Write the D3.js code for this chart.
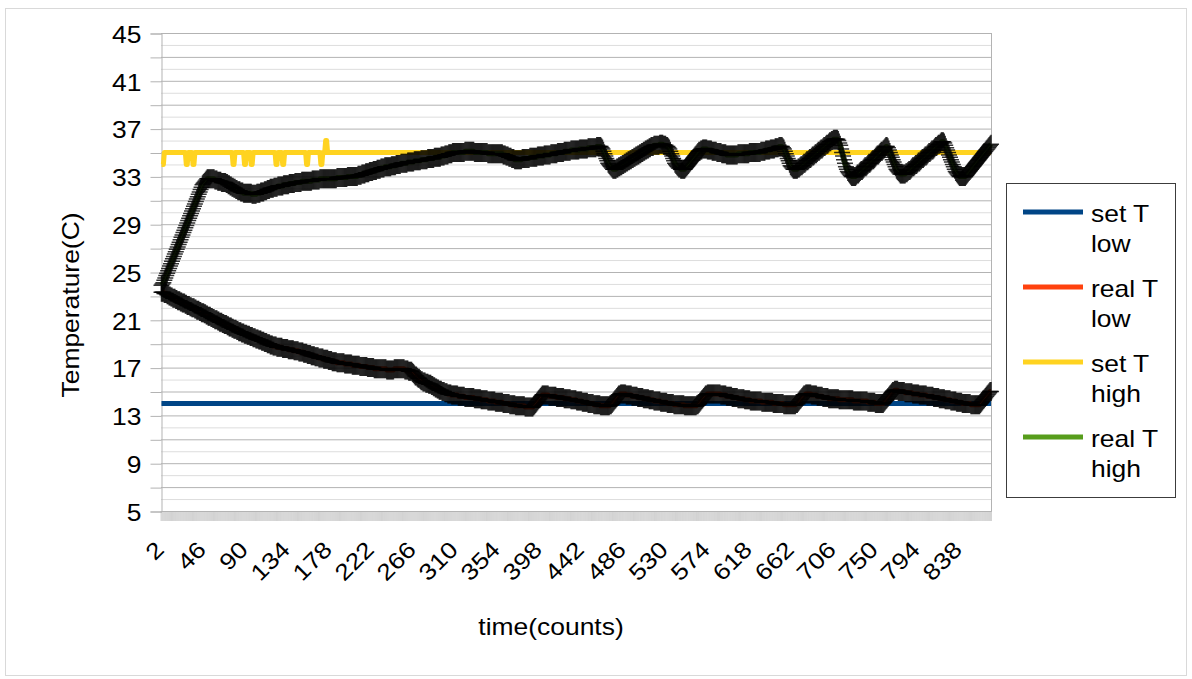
<!DOCTYPE html>
<html>
<head>
<meta charset="utf-8">
<script src="https://cdn.jsdelivr.net/npm/d3@7"></script>
<style>
  html, body { margin: 0; padding: 0; background: #fff; }
  svg { display: block; }
  text { font-family: "Liberation Sans", Arial, sans-serif; fill: #000; }
</style>
</head>
<body>
<svg id="chart" width="1192" height="679"></svg>
<script>
// ---- data -------------------------------------------------------------
// Each series is written as a list of readings; an entry [v, n] means the
// reading v repeated for n consecutive counts.
const counts = d3.range(2, 872);               // sample counts 2 … 871
const xTickLabels = ["2","46","90","134","178","222","266","310","354","398",
                     "442","486","530","574","618","662","706","750","794","838"];
const yTickLabels = [45, 41, 37, 33, 29, 25, 21, 17, 13, 9, 5];
const seriesNames = ["set T low", "real T low", "set T high", "real T high"];

const setTLowRuns = [[14, 870]];

const realTLowRuns = [
  [23.3,3],[23.2,3],[23.1,2],[23.0,2],
  [22.9,2],[22.8,3],[22.7,2],[22.6,3],[22.5,2],[22.4,3],[22.3,2],[22.2,3],[22.1,2],[22.0,3],
  [21.9,2],[21.8,3],[21.7,2],[21.6,3],[21.5,2],[21.4,2],
  [21.3,3],[21.2,2],[21.1,2],[21.0,3],[20.9,2],[20.8,3],[20.7,2],[20.6,3],[20.5,2],[20.4,3],
  [20.3,2],[20.2,3],[20.1,2],[20.0,2],
  [20.0,1],[19.9,3],[19.8,3],[19.7,3],[19.6,3],[19.5,3],[19.4,3],[19.3,3],[19.2,3],[19.1,3],
  [19.0,3],[18.9,3],[18.8,1],
  [18.8,3],[18.7,6],[18.6,6],[18.5,6],[18.4,5],[18.3,5],[18.2,4],
  [18.1,4],[18.0,4],[17.9,4],[17.8,5],[17.7,5],[17.6,4],[17.5,5],[17.4,4],
  [17.4,4],[17.3,8],[17.2,8],[17.1,8],[17.0,7],[16.9,7],
  [16.9,6],[16.8,8],[16.9,11],[16.8,4],[16.7,4],
  16.6,16.5,16.4,[16.3,2],16.2,[16.1,2],16.0,
  [15.9,2],[15.8,3],[15.7,3],[15.6,3],[15.5,2],[15.4,2],
  [15.3,2],[15.2,2],[15.1,3],[15.0,3],[14.9,3],[14.8,4],[14.7,2],
  [14.7,5],[14.6,7],[14.5,6],
  [14.5,4],[14.4,7],[14.3,7],
  [14.2,8],[14.1,8],[14.0,7],[13.9,6],[13.8,6],
  [13.8,4],[13.7,9],
  13.8,13.9,14.0,14.1,14.2,14.3,14.4,14.5,14.6,[14.7,2],
  [14.7,5],[14.6,8],[14.5,8],[14.4,7],
  [14.3,6],[14.2,6],[14.1,6],[14.0,6],
  [13.9,7],[13.8,8],
  [13.8,2],[13.9,2],14.0,14.1,14.2,14.3,14.4,14.5,14.6,[14.7,2],14.8,
  [14.8,5],
  [14.7,6],[14.6,6],[14.5,6],[14.4,6],[14.3,5],
  [14.2,7],[14.1,7],[14.0,7],[13.9,7],
  [13.9,4],[13.8,12],
  13.8,[13.9,2],14.0,14.1,14.2,14.3,14.4,14.5,14.6,[14.7,2],[14.8,2],
  [14.8,12],
  [14.7,6],[14.6,6],[14.5,6],[14.4,7],[14.3,6],
  [14.2,12],[14.1,12],[14.0,11],
  [13.9,13],
  [14.0,2],14.1,14.2,14.3,14.4,14.5,14.6,[14.7,2],[14.8,3],
  [14.8,3],[14.7,6],[14.6,6],[14.5,6],[14.4,5],
  [14.4,6],[14.3,15],[14.2,15],
  [14.1,8],[14.0,8],
  14.0,14.1,14.2,14.3,14.4,14.5,14.6,14.7,14.8,14.9,[15.0,2],[15.1,4],
  [15.0,7],[14.9,8],[14.8,7],[14.7,8],[14.6,7],
  [14.5,6],[14.4,6],[14.3,6],[14.2,6],[14.1,6],[14.0,6],
  [14.0,3],[13.9,10],
  14.0,14.1,14.2,14.3,14.4,14.5,14.6,14.7,14.8,14.9,15.0,15.0
];

const setTHighRuns = [
  [34,3],[35,23],[34,2],[35,5],[34,2],[35,40],[34,2],[35,10],[34,2],[35,5],[34,2],
  [35,24],[34,2],[35,5],[34,2],[35,23],[34,2],[35,13],[34,2],[35,3],[36,2],[35,696]
];

const realTHighRuns = [
  23.9,24.0,24.1,24.3,24.5,24.7,
  24.9,25.1,25.3,25.5,25.7,25.9,26.1,26.3,26.5,26.7,26.9,27.1,27.3,27.5,27.7,27.9,28.1,
  28.3,28.5,28.7,28.9,29.1,29.3,29.5,29.7,29.9,30.1,30.3,30.5,30.7,30.9,31.1,31.3,31.5,
  31.7,31.9,32.1,32.3,32.4,
  32.5,32.6,32.7,[32.8,8],[32.7,3],[32.6,4],[32.5,5],[32.4,2],
  [32.3,2],[32.2,2],[32.1,2],[32.0,2],[31.9,2],[31.8,3],[31.7,3],[31.6,8],
  [31.6,1],[31.5,5],[31.6,4],[31.7,3],
  [31.7,1],[31.8,3],[31.9,3],[32.0,4],[32.1,4],[32.2,6],
  [32.3,6],[32.4,6],[32.5,7],[32.6,6],
  [32.6,5],[32.7,8],[32.8,8],
  [32.8,10],[32.9,11],[33.0,11],
  [33.1,4],[33.2,4],[33.3,4],[33.4,4],[33.5,4],[33.6,4],[33.7,4],[33.8,3],
  [33.8,4],[33.9,5],[34.0,5],
  [34.1,7],[34.2,7],[34.3,7],
  [34.4,7],[34.5,7],[34.6,7],
  [34.7,4],[34.8,4],[34.9,4],[35.0,3],
  [35.0,10],[35.1,10],[35.0,14],
  [34.9,14],
  [34.9,2],[34.8,3],[34.7,3],[34.6,3],[34.5,3],[34.4,3],
  [34.4,5],[34.5,8],[34.6,8],[34.7,7],[34.8,7],
  [34.9,7],[35.0,7],[35.1,7],
  [35.2,9],[35.3,9],[35.4,8],
  35.4,[35.5,5],35.4,35.3,
  35.1,34.9,34.7,34.5,34.3,34.1,34.0,33.9,33.8,33.7,[33.6,3],
  33.6,[33.7,2],[33.8,2],[33.9,2],[34.0,2],[34.1,2],[34.2,2],[34.3,2],[34.4,2],[34.5,2],
  [34.6,2],[34.7,2],[34.8,2],[34.9,2],[35.0,2],[35.1,2],[35.2,2],[35.3,2],[35.4,2],[35.5,3],[35.6,5],
  35.6,[35.7,4],[35.6,3],[35.5,2],35.4,35.3,
  35.1,34.9,34.7,34.5,34.3,34.1,34.0,33.9,33.8,[33.7,2],[33.6,5],
  33.7,33.8,33.9,34.0,34.1,34.2,34.3,34.4,34.5,34.6,34.7,34.8,34.9,35.0,[35.1,2],[35.2,2],[35.3,5],
  [35.2,5],[35.1,5],[35.0,5],[34.9,5],[34.8,4],
  [34.8,8],[34.9,12],[35.0,12],
  [35.1,5],[35.2,5],[35.3,5],[35.4,4],[35.5,4],
  35.4,35.3,35.1,34.9,34.7,34.5,34.3,34.1,33.9,33.8,33.7,[33.6,5],
  [33.7,2],33.8,[33.9,2],34.0,[34.1,2],34.2,[34.3,2],34.4,[34.5,2],34.6,[34.7,2],34.8,
  [34.9,2],35.0,[35.1,2],35.2,[35.3,2],35.4,[35.5,2],35.6,[35.7,2],35.8,[35.9,2],[36.0,2],[36.1,5],
  36.0,35.8,35.6,35.3,35.0,34.7,34.4,34.1,33.8,33.6,33.4,33.3,33.2,33.1,[33.0,5],
  33.1,33.2,33.2,33.3,33.4,33.5,33.5,33.6,33.7,33.8,33.8,33.9,34.0,34.1,34.1,
  34.2,34.3,34.4,34.4,34.5,34.6,34.7,34.8,34.8,34.9,35.0,35.1,35.1,35.2,35.3,35.4,35.5,35.5,
  35.4,35.2,35.0,34.8,34.6,34.4,34.2,34.0,33.8,33.6,33.5,33.4,33.3,[33.2,6],
  33.3,33.3,33.4,33.5,33.5,33.6,33.7,33.8,33.8,33.9,34.0,34.0,34.1,34.2,34.2,34.3,34.4,34.5,
  34.5,34.6,34.7,34.7,34.8,34.9,35.0,35.0,35.1,35.2,35.2,35.3,35.4,35.5,35.5,35.6,35.7,35.7,
  35.8,35.9,35.9,35.9,
  35.8,35.6,35.4,35.2,35.0,34.8,34.6,34.4,34.2,34.0,33.8,33.6,33.4,33.3,33.2,33.1,[33.0,7],
  33.1,33.2,33.3,33.4,33.5,33.6,33.7,33.8,33.9,34.0,34.1,34.2,34.3,34.4,34.5,34.6,34.7,34.8,
  34.9,35.0,35.1,35.2,35.3,35.4,35.5,35.6,35.7
];

const seriesColors = ["#004586", "#ff420e", "#ffd320", "#579d1c"];

// expand the run lists into one reading per count
function expand(runs) {
  const out = [];
  runs.forEach(e => {
    if (Array.isArray(e)) { for (let k = 0; k < e[1]; k++) out.push(e[0]); }
    else out.push(e);
  });
  return out;
}
const setTLow = expand(setTLowRuns);
const realTLow = expand(realTLowRuns);
const setTHigh = expand(setTHighRuns);
const realTHigh = expand(realTHighRuns);
[setTLow, realTLow, setTHigh, realTHigh].forEach((s, k) => {
  if (s.length !== counts.length) throw new Error(seriesNames[k] + " has " + s.length + " readings");
});

// ---- layout -----------------------------------------------------------
const FONT = 23, STRETCH = 1.15;   // wide lettering: glyphs widened along the text direction
const plot = { left: 161, right: 991.5, top: 33, bottom: 511 };
const svg = d3.select("#chart");

// outer chart border
svg.append("rect")
  .attr("x", 5.5).attr("y", 8.5).attr("width", 1181).attr("height", 667)
  .attr("fill", "#fff").attr("stroke", "#d9d9d9");

const x = d3.scaleBand().domain(counts).range([plot.left, plot.right]);
const xc = c => x(c) + x.bandwidth() / 2;
const y = d3.scaleLinear().domain([5, 45]).range([plot.bottom, plot.top]);

// horizontal grid: light line every degree, darker every two degrees
const grid = svg.append("g");
grid.selectAll("line.minor").data(d3.range(6, 45, 2)).join("line")
  .attr("x1", plot.left).attr("x2", plot.right)
  .attr("y1", d => y(d) + 0.5).attr("y2", d => y(d) + 0.5)
  .attr("stroke", "#dddddd");
grid.selectAll("line.major").data(d3.range(5, 46, 2)).join("line")
  .attr("x1", plot.left).attr("x2", plot.right)
  .attr("y1", d => y(d) + 0.5).attr("y2", d => y(d) + 0.5)
  .attr("stroke", "#b3b3b3");
// right wall edge
svg.append("line")
  .attr("x1", plot.right).attr("x2", plot.right)
  .attr("y1", plot.top).attr("y2", plot.bottom)
  .attr("stroke", "#b3b3b3");

// y axis
const yAxis = d3.axisLeft(y)
  .tickValues(d3.range(5, 46, 2))
  .tickSize(11).tickPadding(9)
  .tickFormat(d => yTickLabels.includes(d) ? String(d) : "");
const gy = svg.append("g").attr("transform", `translate(${plot.left + 0.5},0.5)`).call(yAxis);
gy.select(".domain").attr("stroke", "#b3b3b3");
gy.selectAll(".tick line").attr("stroke", "#b3b3b3");
gy.selectAll(".tick text")
  .attr("font-size", FONT).attr("font-family", "Liberation Sans, Arial, sans-serif")
  .attr("fill", "#000").attr("dy", "0.38em")
  .attr("transform", `translate(-20,0) scale(${STRETCH},1) translate(20,0)`);

// x axis: baseline with one tick between every pair of counts
const gx = svg.append("g");
gx.selectAll("line.tick").data(d3.range(counts.length + 1)).join("line")
  .attr("x1", i => plot.left + i * x.step()).attr("x2", i => plot.left + i * x.step())
  .attr("y1", plot.bottom).attr("y2", plot.bottom + 10)
  .attr("stroke", "#a0a0a0").attr("stroke-width", 0.45);
gx.append("line")
  .attr("x1", plot.left).attr("x2", plot.right)
  .attr("y1", plot.bottom + 0.5).attr("y2", plot.bottom + 0.5)
  .attr("stroke", "#b3b3b3");
gx.selectAll("text").data(xTickLabels).join("text")
  .attr("text-anchor", "end").attr("font-size", FONT)
  .attr("transform", d => `translate(${xc(+d) + 4},551) rotate(-45) scale(${STRETCH},1)`)
  .text(d => d);

// axis titles
svg.append("text").attr("text-anchor", "middle").attr("font-size", FONT)
  .attr("transform", `translate(79,305) rotate(-90) scale(${STRETCH},1)`)
  .text("Temperature(C)");
svg.append("text").attr("text-anchor", "middle").attr("font-size", FONT)
  .attr("transform", `translate(551,635) scale(${STRETCH},1)`)
  .text("time(counts)");

// ---- series -----------------------------------------------------------
const line = d3.line().x((d, i) => xc(counts[i])).y(d => y(d));
const marks = svg.append("g");
const seriesData = [setTLow, realTLow, setTHigh, realTHigh];
seriesData.forEach((s, k) => {
  marks.append("path").datum(s)
    .attr("d", line).attr("fill", "none")
    .attr("stroke", seriesColors[k]).attr("stroke-width", 5)
    .attr("stroke-linejoin", "round");
  if (k === 1 || k === 3) {
    // "+" symbol on every reading
    marks.append("g").selectAll("path").data(s).join("path")
      .attr("transform", (d, i) => `translate(${xc(counts[i])},${y(d)})`)
      .attr("d", "M-8,0H8M0,-9.5V9.5")
      .attr("fill", "none").attr("stroke", "#000")
      .attr("stroke-width", 1.5).attr("stroke-opacity", 0.8);
  }
});

// ---- legend -----------------------------------------------------------
const legend = svg.append("g");
legend.append("rect")
  .attr("x", 1006.5).attr("y", 183.5).attr("width", 169).attr("height", 314)
  .attr("fill", "#fff").attr("stroke", "#3c3c3c");
const legendLabels = [["set T", "low"], ["real T", "low"], ["set T", "high"], ["real T", "high"]];
legendLabels.forEach((lab, k) => {
  const ly = 212 + k * 75;
  legend.append("line")
    .attr("x1", 1023).attr("x2", 1083).attr("y1", ly).attr("y2", ly)
    .attr("stroke", seriesColors[k]).attr("stroke-width", 5);
  lab.forEach((t, j) => {
    legend.append("text").attr("font-size", FONT)
      .attr("transform", `translate(1091,${ly + 10 + j * 30}) scale(${STRETCH},1)`)
      .text(t);
  });
});
</script>
</body>
</html>
